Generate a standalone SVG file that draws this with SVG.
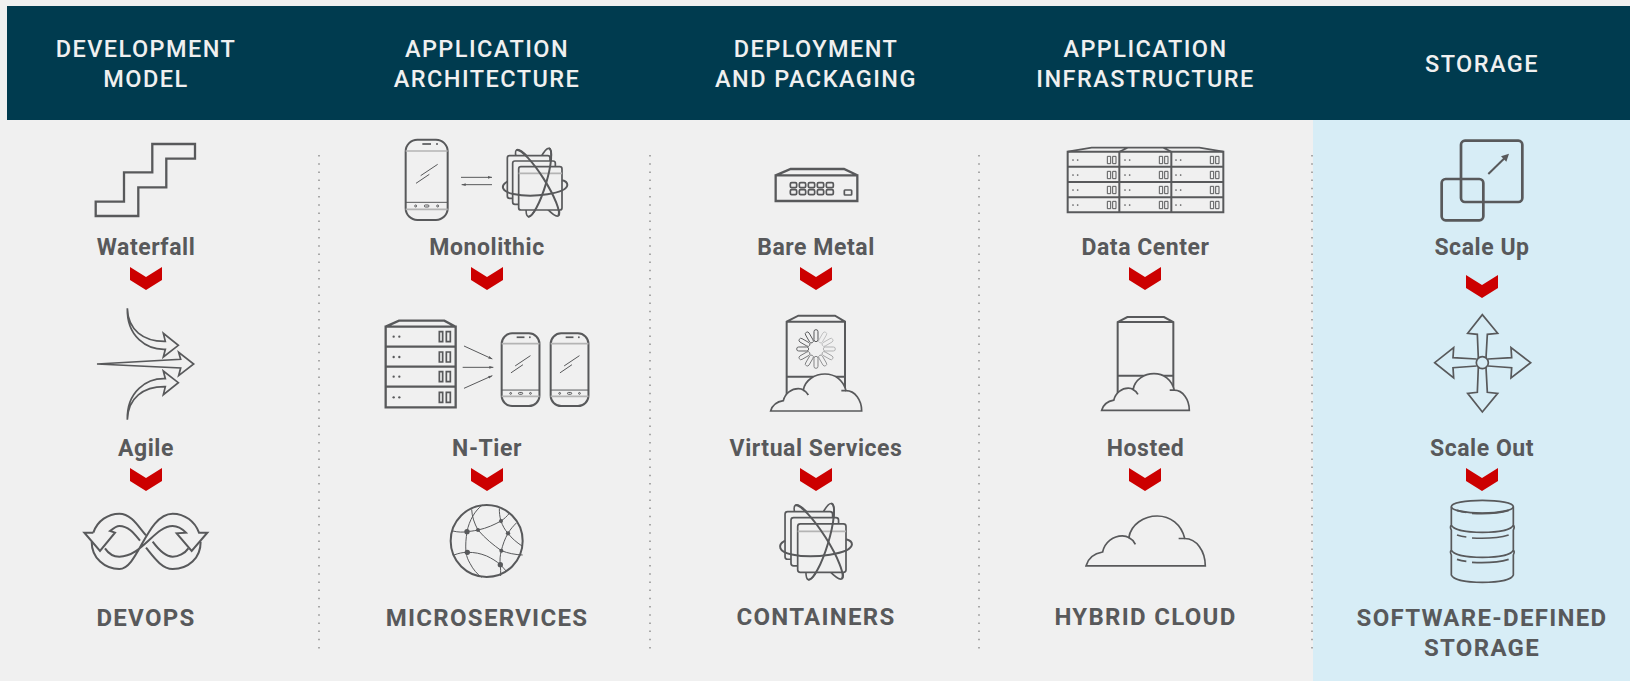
<svg xmlns="http://www.w3.org/2000/svg" width="1630" height="681" viewBox="0 0 1630 681">
<style>
text{font-family:"Roboto","Liberation Sans",sans-serif;font-weight:700;text-anchor:middle}
.h{font-size:23.500px;fill:#f0f0f0;letter-spacing:1.450px;font-weight:500}
.l{font-size:23px;fill:#58595b;letter-spacing:.55px}
.c{font-size:24px;fill:#58595b;letter-spacing:1.300px}
.i *,.sym *{fill:none;stroke:#58595b;stroke-width:1.700;vector-effect:non-scaling-stroke}
.i .b,.sym .b{stroke-width:2.300}
.i .m,.sym .m{stroke-width:2}
.i .x{stroke-width:2.700}
.i .t,.sym .t{stroke-width:1}
.i .d,.sym .d{fill:#58595b;stroke:none}
.i .p,.sym .p{stroke:#b4b4b4}
.i .bg,.sym .bg{fill:#f0f0f0}
.chev{fill:#cc0000}
.div{stroke:#a8a8a8;stroke-width:2;stroke-dasharray:1.5 6.7}
</style>
<defs>
<marker id="ah" markerWidth="14" markerHeight="16" refX="12" refY="8" orient="auto-start-reverse" markerUnits="userSpaceOnUse"><path d="M0,4L12,8L0,12Z" fill="#58595b"/></marker>
<path id="chevron" d="M-16,0L0,10L16,0V13L0,23L-16,13Z"/>
<g id="phone" class="sym">
<rect class="m" x="107" y="44" width="126" height="241" rx="35"/>
<path class="p" d="M107,78H233M107,253H233"/>
<path class="t" d="M107,232H233M152,152L203,118M138,175L178,148"/>
<path d="M157,57H183"/>
<circle class="d" cx="201" cy="57" r="3"/>
<circle class="t" cx="137" cy="243" r="3"/><circle class="t" cx="203" cy="243" r="3"/><rect class="t" x="163" y="240" width="14" height="6" rx="3"/>
</g>
<g id="container" class="sym">
<ellipse cx="502.500" cy="173.500" rx="117" ry="24" transform="rotate(57.600 502.500 173.500)"/>
<ellipse cx="506" cy="172.500" rx="107" ry="22" transform="rotate(-73 506 172.500)"/>
<rect class="bg" x="412" y="92" width="128" height="128" rx="7"/>
<rect class="bg" x="428" y="108" width="128" height="130" rx="7"/>
<rect class="bg" x="446" y="125" width="130" height="130" rx="7"/>
<path class="p" d="M446,145H576"/>
<path class="m" d="M440,75A117 24 57.600 0 1 565,272"/>
<path class="m" d="M537,70A107 22 107 0 1 475,275"/>
<path class="m" d="M412,170C390,182 395,200 430,207C490,220 590,205 592,180C592,172 585,168 576,166"/>
</g>
<g id="cloud" class="sym">
<path class="bg" d="M92,783C97,765 112,755 130,752C135,730 155,716 175,716C180,716 186,717 190,720C195,690 225,672 255,672C285,672 310,690 318,722C345,722 365,750 365,783Z"/>
<path d="M190,720C196,723 202,729 205,735M318,722L304,722"/>
</g>
<g id="rackrow" class="sym"><circle class="d" cx="71" cy="0" r="3.500"/><circle class="d" cx="88" cy="0" r="3.500"/><rect x="208" y="-15" width="10" height="30"/><rect x="229" y="-15" width="12" height="30"/></g>
<g id="dcrow" class="sym"><circle class="d" cx="69" cy="0" r="2.500"/><circle class="d" cx="83" cy="0" r="2.500"/><rect class="t" x="172" y="-11" width="10" height="22"/><rect class="t" x="188" y="-11" width="10" height="22"/></g>
</defs>
<rect width="1630" height="681" fill="#f0f0f0"/>
<rect x="1313" y="120" width="317" height="561" fill="#d7edf6"/>
<rect x="7" y="6" width="1623" height="114" fill="#003b4f"/>

<g id="header">
<text class="h" x="146" y="57">DEVELOPMENT</text><text class="h" x="146" y="87">MODEL</text>
<text class="h" x="487" y="57">APPLICATION</text><text class="h" x="487" y="87">ARCHITECTURE</text>
<text class="h" x="816" y="57">DEPLOYMENT</text><text class="h" x="816" y="87">AND PACKAGING</text>
<text class="h" x="1145.500" y="57">APPLICATION</text><text class="h" x="1145.500" y="87">INFRASTRUCTURE</text>
<text class="h" x="1482" y="72">STORAGE</text>
</g>

<g id="dividers">
<path class="div" d="M319,155V651"/><path class="div" d="M650,155V651"/><path class="div" d="M979,155V651"/><path class="div" d="M1312,155V651"/>
</g>

<g id="connectors" class="chev">
<use href="#chevron" x="146" y="267"/><use href="#chevron" x="146" y="468"/>
<use href="#chevron" x="487" y="267"/><use href="#chevron" x="487" y="468"/>
<use href="#chevron" x="816" y="267"/><use href="#chevron" x="816" y="468"/>
<use href="#chevron" x="1145" y="267"/><use href="#chevron" x="1145" y="468"/>
<use href="#chevron" x="1482" y="275"/><use href="#chevron" x="1482" y="468"/>
</g>

<g id="waterfall">
<g class="i"><path class="b" d="M95.700,201.700H124V172.300H152.300V144H195V158.700H166.300V187.300H138.300V216H95.700Z"/></g>
<text class="l" x="146" y="255">Waterfall</text>
</g>
<g id="agile">
<g class="i" transform="translate(60 120) scale(.33333)">
<path d="M202,565C204,630 250,665 316,664L310,640L355,676L310,711L316,688C260,690 200,650 202,565Z"/>
<path d="M111,732L362,718L356,697L401,732L356,767L362,744Z"/>
<path d="M202,899C200,814 260,774 316,776L310,753L355,788L310,824L316,800C250,799 204,834 202,899Z"/>
</g>
<text class="l" x="146" y="456">Agile</text>
</g>
<g id="devops">
<g class="i" transform="translate(60 420) scale(.33333)">
<path class="m" d="M95,365C95,415 135,447 178,447C235,447 260,281 338,281C375,281 405,305 417,338L442,338L395,393L350,340L378,338C365,325 350,318 338,318C285,318 245,410 178,410C160,410 145,400 135,385"/>
<path class="m" d="M100,338L73,338L120,393L165,338L150,333C160,325 168,318 178,318C205,318 222,340 240,362"/>
<path class="m" d="M100,338C112,302 145,281 178,281C215,281 238,325 258,346"/>
<path class="m" d="M278,365C295,388 315,410 338,410C355,410 375,400 385,385"/>
<path class="m" d="M258,383C280,410 305,447 338,447C385,447 422,415 422,365"/>
</g>
<text class="c" x="146" y="626">DEVOPS</text>
</g>

<g id="monolithic">
<g class="i" transform="translate(370 125) scale(.33333)">
<use href="#phone"/>
<path class="t" marker-end="url(#ah)" d="M273,157H366"/>
<path class="t" marker-start="url(#ah)" d="M275,179H366"/>
<use href="#container"/>
</g>
<text class="l" x="487" y="255">Monolithic</text>
</g>
<g id="ntier">
<g class="i" transform="translate(370 125) scale(.33333)">
<path class="b" d="M47,605L87,587H223L257,605M47,605H257V847H47ZM47,665H257M47,725H257M47,785H257"/>
<use href="#rackrow" y="635"/><use href="#rackrow" y="696"/><use href="#rackrow" y="755"/><use href="#rackrow" y="817"/>
<path class="t" marker-end="url(#ah)" d="M282,663L367,702"/>
<path class="t" marker-end="url(#ah)" d="M278,727H370"/>
<path class="t" marker-end="url(#ah)" d="M282,790L367,752"/>
<use href="#phone" transform="translate(298.700 585.200) scale(.9 .905)"/>
<use href="#phone" transform="translate(445.700 585.200) scale(.9 .905)"/>
</g>
<text class="l" x="487" y="456">N-Tier</text>
</g>
<g id="microservices">
<g class="i" transform="translate(430 490) scale(.33333)">
<circle class="m" cx="170" cy="153" r="108"/>
<path class="t" d="M68,123C85,127 100,127 111,125C120,124 130,123 144,120C170,115 195,103 213,93C222,87 231,79 238,70"/>
<path class="t" d="M157,45C135,62 118,90 111,125C108,145 106,165 108,187C110,200 114,210 120,220C130,240 142,252 155,262"/>
<path class="t" d="M72,195C85,190 98,187 112,187C135,187 150,190 170,198C185,205 200,214 211,224C218,231 224,238 230,245"/>
<path class="t" d="M125,58C126,80 133,100 144,120C165,145 190,165 214,182C235,190 255,194 278,195"/>
<path class="t" d="M208,55C208,68 209,80 213,93C218,108 225,120 234,130C245,145 260,157 276,168"/>
<path class="t" d="M260,98C250,108 241,118 234,130C225,145 218,165 214,182C210,197 209,210 211,224C212,235 212,247 212,258"/>
<circle class="d" cx="111" cy="125" r="8"/><circle class="d" cx="144" cy="120" r="6"/><circle class="d" cx="213" cy="93" r="6"/><circle class="d" cx="234" cy="130" r="6.500"/><circle class="d" cx="214" cy="182" r="6"/><circle class="d" cx="112" cy="187" r="8"/><circle class="d" cx="211" cy="224" r="8"/>
</g>
<text class="c" x="487" y="626">MICROSERVICES</text>
</g>

<g id="baremetal">
<g class="i" transform="translate(740 150) scale(.33333)">
<path class="b" d="M107,76L152,57H312L352,76M107,76H352V153H107Z"/>
<rect x="151" y="98" width="19" height="15" rx="4"/><rect x="178" y="98" width="19" height="15" rx="4"/><rect x="205" y="98" width="19" height="15" rx="4"/><rect x="232" y="98" width="19" height="15" rx="4"/><rect x="259" y="98" width="21" height="15" rx="4"/>
<rect x="151" y="119" width="19" height="15" rx="4"/><rect x="178" y="119" width="19" height="15" rx="4"/><rect x="205" y="119" width="19" height="15" rx="4"/><rect x="232" y="119" width="19" height="15" rx="4"/><rect x="259" y="119" width="21" height="15" rx="4"/>
<rect x="313" y="120" width="22" height="15" rx="2"/>
</g>
<text class="l" x="816" y="255">Bare Metal</text>
</g>
<g id="virtual">
<g class="i" transform="translate(740 150) scale(.33333)">
<path class="m" d="M140,770V515L175,497H285L315,515V770M140,515H315M140,680H315"/>
<g transform="translate(228 597)">
<rect class="t" x="-6" y="-58" width="12" height="36" rx="6"/>
<rect class="t" x="-6" y="-58" width="12" height="36" rx="6" transform="rotate(30)" style="opacity:.3"/>
<rect class="t" x="-6" y="-58" width="12" height="36" rx="6" transform="rotate(60)" style="opacity:.35"/>
<rect class="t" x="-6" y="-58" width="12" height="36" rx="6" transform="rotate(90)" style="opacity:.4"/>
<rect class="t" x="-6" y="-58" width="12" height="36" rx="6" transform="rotate(120)" style="opacity:.5"/>
<rect class="t" x="-6" y="-58" width="12" height="36" rx="6" transform="rotate(150)" style="opacity:.6"/>
<rect class="t" x="-6" y="-58" width="12" height="36" rx="6" transform="rotate(180)" style="opacity:.7"/>
<rect class="t" x="-6" y="-58" width="12" height="36" rx="6" transform="rotate(210)" style="opacity:.75"/>
<rect class="t" x="-6" y="-58" width="12" height="36" rx="6" transform="rotate(240)" style="opacity:.8"/>
<rect class="t" x="-6" y="-58" width="12" height="36" rx="6" transform="rotate(270)" style="opacity:.9"/>
<rect class="t" x="-6" y="-58" width="12" height="36" rx="6" transform="rotate(300)" style="opacity:.95"/>
<rect class="t" x="-6" y="-58" width="12" height="36" rx="6" transform="rotate(330)"/>
</g>
<use href="#cloud"/>
</g>
<text class="l" x="816" y="456">Virtual Services</text>
</g>
<g id="containers">
<g class="i" transform="translate(631.900 477.500) scale(.3717)"><use href="#container"/></g>
<text class="c" x="816" y="625">CONTAINERS</text>
</g>

<g id="datacenter">
<g class="i" transform="translate(1050 135) scale(.33333)">
<path d="M53,50L125,38H208L233,38H340L364,50M208,50L233,38M340,38H448L520,50"/>
<path class="m" d="M53,50H520V232H53ZM53,95H520M53,141H520M53,187H520M208,50V232M364,50V232"/>
<use href="#dcrow" y="75"/><use href="#dcrow" y="120"/><use href="#dcrow" y="165"/><use href="#dcrow" y="210"/>
<use href="#dcrow" x="156" y="75"/><use href="#dcrow" x="156" y="120"/><use href="#dcrow" x="156" y="165"/><use href="#dcrow" x="156" y="210"/>
<use href="#dcrow" x="309" y="75"/><use href="#dcrow" x="309" y="120"/><use href="#dcrow" x="309" y="165"/><use href="#dcrow" x="309" y="210"/>
</g>
<text class="l" x="1145.500" y="255">Data Center</text>
</g>
<g id="hosted">
<g class="i" transform="translate(1050 135) scale(.33333)">
<path class="m" d="M203,790V561L232,546H342L370,561V790M203,561H370M203,722H370"/>
<use href="#cloud" transform="translate(66.400 50.700) scale(.963 .99)"/>
</g>
<text class="l" x="1145.500" y="456">Hosted</text>
</g>
<g id="hybrid">
<g class="i" transform="translate(1086 516) scale(.437 .45)"><use href="#cloud" transform="translate(-92 -672)"/></g>
<text class="c" x="1145.500" y="625">HYBRID CLOUD</text>
</g>

<g id="scaleup">
<g class="i" transform="translate(1400 130) scale(.33333)">
<rect class="x" x="183" y="32" width="184" height="184" rx="12"/><rect class="x" x="125" y="147" width="125" height="124" rx="12"/>
<path class="m" d="M265,132L318,80"/><path class="d" d="M327,71L303,79L319,95Z"/>
</g>
<text class="l" x="1482" y="255">Scale Up</text>
</g>
<g id="scaleout">
<g class="i" transform="translate(1400 130) scale(.33333)">
<circle cx="247" cy="698" r="18"/>
<path d="M235,685L232,613L203,610L247,554L293,610L262,613L258,684"/>
<path d="M235,712L232,787L203,790L247,846L293,790L262,787L258,712"/>
<path d="M230,687L159,683L161,653L104,698L161,744L159,713L230,708"/>
<path d="M264,687L335,683L333,653L392,698L333,744L335,713L264,708"/>
</g>
<text class="l" x="1482" y="456">Scale Out</text>
</g>
<g id="sds">
<g class="i" transform="translate(1350 440) scale(.33333)">
<ellipse cx="397" cy="200" rx="93" ry="19"/>
<path d="M304,200V255C310,270 350,277 397,277C445,277 485,270 490,255V200M304,255C298,262 304,268 304,270V330C310,345 350,352 397,352C445,352 485,345 490,330V270C490,268 496,262 490,255M304,330C298,337 304,342 304,345V405C310,420 350,427 397,427C445,427 485,420 490,405V345C490,342 496,337 490,330"/>
<path d="M321,211C330,214 340,216 349,217M366,220C405,222 450,219 476,211M321,285C330,288 340,290 349,291M366,294C405,296 450,293 476,285M321,358C330,361 340,363 349,364M366,367C405,369 450,366 476,358"/>
</g>
<text class="c" x="1482" y="626">SOFTWARE-DEFINED</text><text class="c" x="1482" y="656">STORAGE</text>
</g>
</svg>
